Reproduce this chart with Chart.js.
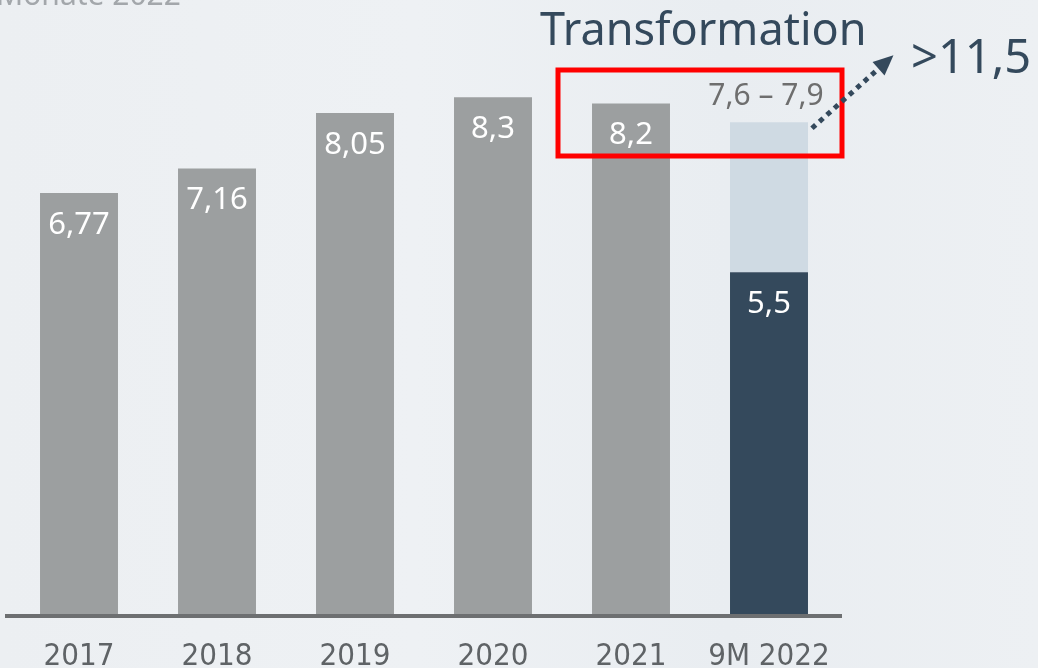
<!DOCTYPE html>
<html>
<head>
<meta charset="utf-8">
<script src="https://cdn.jsdelivr.net/npm/chart.js@4"></script>
<style>
  html, body { margin: 0; padding: 0; }
  body { width: 1038px; height: 668px; overflow: hidden;
         background: linear-gradient(90deg, #eceff2 0%, #eef1f4 40%, #e9edf1 70%, #edf0f3 100%); }
  #wrap { position: relative; width: 1038px; height: 668px; }
</style>
</head>
<body>
<div id="wrap"><canvas id="chartRevenue" width="1038" height="668"></canvas></div>
<script>
const years = ['2017', '2018', '2019', '2020', '2021', '9M 2022'];
const actual = [6.77, 7.16, 8.05, 8.3, 8.2, 5.5];
const outlook = [0, 0, 0, 0, 0, 2.4];
const valueLabels = ['6,77', '7,16', '8,05', '8,3', '8,2', '5,5'];
const outlookLabel = '7,6 \u2013 7,9';
const targetLabel = '>11,5';
const title = 'Transformation';

const grey = '#9c9fa0';
const navy = '#34495c';
const paleBlue = '#cfdae3';

const overlay = {
  id: 'overlay',
  afterDatasetsDraw(chart) {
    const ctx = chart.ctx;
    const area = chart.chartArea;
    const base = chart.getDatasetMeta(0).data;
    const top = chart.getDatasetMeta(1).data;

    ctx.save();
    // axis line
    ctx.strokeStyle = '#6d6f71';
    ctx.lineWidth = 4;
    ctx.beginPath();
    ctx.moveTo(area.left - 5, area.bottom);
    ctx.lineTo(area.right + 4, area.bottom);
    ctx.stroke();

    // values inside the bars
    ctx.fillStyle = '#ffffff';
    ctx.font = '31px "Noto Sans"';
    ctx.textAlign = 'center';
    ctx.textBaseline = 'middle';
    base.forEach((bar, i) => {
      ctx.fillText(valueLabels[i], bar.x, bar.y + 32);
    });

    // outlook range above the stacked bar
    const last = top[top.length - 1];
    ctx.fillStyle = '#6e6e6e';
    ctx.font = '30px "Noto Sans"';
    ctx.fillText(outlookLabel, last.x - 3, last.y - 26);

    // red frame
    const prev = base[base.length - 2];
    ctx.strokeStyle = '#ff0000';
    ctx.lineWidth = 5;
    ctx.strokeRect(prev.x - 73, 70, (last.x + 73) - (prev.x - 73), 86);

    // dotted arrow
    const sx = last.x + last.width / 2 + 4, sy = last.y + 6;
    const ex = 886, ey = 62;
    ctx.strokeStyle = navy;
    ctx.lineWidth = 5;
    ctx.setLineDash([5, 5]);
    ctx.beginPath();
    ctx.moveTo(sx, sy);
    ctx.lineTo(ex, ey);
    ctx.stroke();
    ctx.setLineDash([]);
    const ang = Math.atan2(ey - sy, ex - sx);
    ctx.fillStyle = navy;
    ctx.beginPath();
    ctx.moveTo(ex + 10 * Math.cos(ang), ey + 10 * Math.sin(ang));
    ctx.lineTo(ex - 10 * Math.cos(ang) - 9 * Math.sin(ang), ey - 10 * Math.sin(ang) + 9 * Math.cos(ang));
    ctx.lineTo(ex - 10 * Math.cos(ang) + 9 * Math.sin(ang), ey - 10 * Math.sin(ang) - 9 * Math.cos(ang));
    ctx.closePath();
    ctx.fill();

    // texts
    ctx.fillStyle = navy;
    ctx.font = '45px "Noto Sans"';
    ctx.textAlign = 'left';
    ctx.textBaseline = 'alphabetic';
    ctx.fillText(title, 540, 45);
    ctx.font = '47px "Noto Sans"';
    ctx.fillText(targetLabel, 911, 73);

    ctx.fillStyle = '#a3a7ab';
    ctx.font = '30px "Noto Sans"';
    ctx.fillText('Monate 2022', -4, 5);
    ctx.restore();
  }
};

new Chart(document.getElementById('chartRevenue'), {
  type: 'bar',
  data: {
    labels: years,
    datasets: [{
      data: actual,
      backgroundColor: [grey, grey, grey, grey, grey, navy],
      barPercentage: 0.565,
      categoryPercentage: 1
    }, {
      data: outlook,
      backgroundColor: paleBlue,
      barPercentage: 0.565,
      categoryPercentage: 1
    }]
  },
  options: {
    responsive: false,
    animation: false,
    layout: { padding: { top: 0, left: 10, right: 200, bottom: 0 } },
    plugins: { legend: { display: false }, tooltip: { enabled: false } },
    scales: {
      x: {
        stacked: true,
        grid: { display: false, drawTicks: false },
        border: { display: false },
        ticks: {
          color: '#5f6366',
          font: { family: '"DejaVu Sans Condensed", "Liberation Sans Narrow", "Liberation Sans", sans-serif', size: 31 },
          padding: 22
        },
        afterFit(scale) { scale.height = 52; }
      },
      y: {
        stacked: true,
        display: false,
        min: 0,
        max: 9.856
      }
    }
  },
  plugins: [overlay]
});
</script>
</body>
</html>
